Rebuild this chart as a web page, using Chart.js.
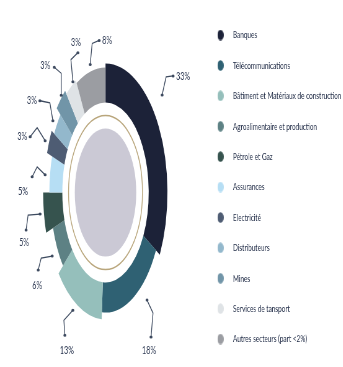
<!DOCTYPE html>
<html><head><meta charset="utf-8">
<script src="https://cdn.jsdelivr.net/npm/chart.js@4.4.1/dist/chart.umd.min.js"></script>
<style>
html,body{margin:0;padding:0;background:#fff;}
#wrap{width:343px;height:367px;overflow:hidden;position:relative;}
#inner{position:absolute;left:0;top:0;width:553px;height:367px;transform:scaleX(0.62);transform-origin:0 0;}
</style></head><body>
<div id="wrap"><div id="inner"><canvas id="c"></canvas></div></div>
<script>
// ---- data ----
const categories = ["Banques", "Télécommunications", "Bâtiment et Matériaux de construction",
  "Agroalimentaire et production", "Pétrole et Gaz", "Assurances", "Electricité",
  "Distributeurs", "Mines", "Services de tansport", "Autres secteurs (part <2%)"];
const shares = [33, 18, 13, 6, 5, 5, 3, 3, 3, 3, 8];
const valueLabels = shares.map(v => v + "%");

// ---- style ----
const colors = ["#1c2238", "#2f6173", "#95bfbb", "#5d8184", "#36534e", "#b6def4",
  "#4e5c73", "#93b8cc", "#7195a8", "#dfe3e6", "#9b9da2"];
const SX = 0.62;                 // horizontal squeeze of whole picture
const geom = { cx: 105.5 / SX, cy: 192.5, ex: 0.48 / SX, disc: 64, ring: 77, inner: 90 };
const outerR = [129, 120, 127, 115, 130, 117, 128, 122, 132, 128, 125];
const leaderR = [153, 138, 136, 128, 138, 127, 136, 131, 134, 130, 132];
const leaderNudge = [-9, -10, 3, -1, 0, -1, -1, -1, 1.5, 2.7, 0.4]; // degrees
// leader shapes: elbow offset, end offset, text offset (picture px), alignment
const leaderLayout = [
  { elbow: [4, -18], end: [11, -19], text: [3, 0], align: "left" },
  { elbow: [6, 13], end: [4, 37], text: [-2, 13], align: "center" },
  { elbow: [-9, 10], end: [-8, 25], text: [2, 15], align: "center" },
  { elbow: [-11, 2], end: [-14, 14], text: [-1, 15], align: "center" },
  { elbow: [-12, 1], end: [-14, 16], text: [-2, 12], align: "center" },
  { elbow: [-8, -8], end: [-13, 2], text: [-9, 14], align: "center" },
  { elbow: [-8, -13], end: [-15, -4], text: [-3, 0], align: "right" },
  { elbow: [-3, -18], end: [-13, -20], text: [-3, 0], align: "right" },
  { elbow: [0, -22], end: [-7, -28], text: [-4, -2], align: "right" },
  { elbow: [-2, -22], end: [5, -29], text: [-2, -10], align: "center" },
  { elbow: [2, -21], end: [9, -24], text: [3, 0], align: "left" }
];

function dotImage(color) {
  const c = document.createElement("canvas");
  c.width = 10; c.height = 11;
  const g = c.getContext("2d");
  g.fillStyle = color;
  g.beginPath(); g.ellipse(5, 5.5, 5, 5.3, 0, 0, Math.PI * 2); g.fill();
  return c;
}
const dots = colors.map(dotImage);

const shapePlugin = {
  id: "shape",
  afterDatasetsUpdate(chart) {
    chart.getDatasetMeta(0).data.forEach((arc, i) => {
      arc.x = geom.cx; arc.y = geom.cy;
      arc.innerRadius = geom.inner; arc.outerRadius = outerR[i];
    });
  },
  beforeDatasetsDraw(chart) {
    const ctx = chart.ctx;
    ctx.save();
    ctx.beginPath();
    ctx.ellipse(geom.cx, geom.cy, geom.disc * geom.ex, geom.disc, 0, 0, Math.PI * 2);
    ctx.fillStyle = "#cbc9d5"; ctx.fill();
    ctx.beginPath();
    ctx.ellipse(geom.cx, geom.cy, geom.ring * geom.ex, geom.ring, 0, 0, Math.PI * 2);
    ctx.strokeStyle = "#b9a67c"; ctx.lineWidth = 1.4; ctx.stroke();
    ctx.restore();
    ctx.save();
    ctx.translate(geom.cx, geom.cy); ctx.scale(geom.ex, 1); ctx.translate(-geom.cx, -geom.cy);
  },
  afterDatasetsDraw(chart) {
    const ctx = chart.ctx;
    ctx.restore();
    ctx.save();
    chart.getDatasetMeta(0).data.forEach((arc, i) => {
      const a = (arc.startAngle + arc.endAngle) / 2 + leaderNudge[i] * Math.PI / 180;
      const sx = arc.x + Math.cos(a) * leaderR[i] * geom.ex;
      const sy = arc.y + Math.sin(a) * leaderR[i];
      const L = leaderLayout[i];
      const bx = sx + L.elbow[0] / SX, by = sy + L.elbow[1];
      const nx = sx + L.end[0] / SX, ny = sy + L.end[1];
      ctx.strokeStyle = "#3d4a5f"; ctx.fillStyle = "#3d4a5f"; ctx.lineWidth = 1.3;
      ctx.beginPath(); ctx.moveTo(sx, sy); ctx.lineTo(bx, by); ctx.lineTo(nx, ny); ctx.stroke();
      [[sx, sy], [nx, ny]].forEach(p => {
        ctx.beginPath(); ctx.ellipse(p[0], p[1], 1.5 / SX, 1.5, 0, 0, Math.PI * 2); ctx.fill();
      });
      ctx.font = "11.5px Lato";
      ctx.textAlign = L.align; ctx.textBaseline = "middle";
      ctx.fillStyle = "#2a3650";
      ctx.fillText(valueLabels[i], nx + L.text[0] / SX, ny + L.text[1]);
    });
    ctx.restore();
  }
};

new Chart(document.getElementById("c"), {
  type: "doughnut",
  data: {
    labels: categories,
    datasets: [{ data: shares, backgroundColor: colors, borderWidth: 0, hoverOffset: 0, clip: false }]
  },
  options: {
    responsive: true, maintainAspectRatio: false, animation: false, events: [],
    devicePixelRatio: 1,
    layout: { padding: { top: 9.75, bottom: 0, left: 0, right: 0 } },
    plugins: {
      tooltip: { enabled: false },
      legend: {
        position: "right", align: "start", maxWidth: 232.55,
        labels: {
          usePointStyle: true, pointStyleWidth: 30.1, padding: 20.1,
          color: "#25304a", font: { family: "Lato", size: 10.3 },
          generateLabels(chart) {
            const items = Chart.overrides.doughnut.plugins.legend.labels.generateLabels(chart);
            return items.map((it, i) => Object.assign(it, { pointStyle: dots[i] }));
          }
        }
      }
    }
  },
  plugins: [shapePlugin]
});
</script>
</body></html>
